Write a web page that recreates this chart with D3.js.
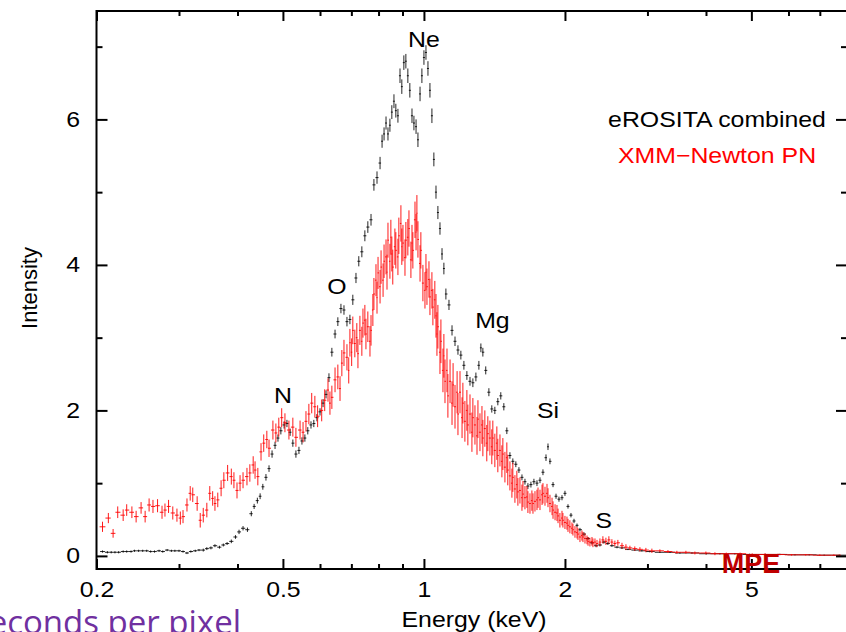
<!DOCTYPE html>
<html>
<head>
<meta charset="utf-8">
<script src="https://cdn.jsdelivr.net/npm/d3@7"></script>
<style>
  html, body { margin: 0; padding: 0; background: #fff; overflow: hidden; }
  svg { display: block; }
</style>
</head>
<body>
<div id="chart"></div>
<script>
// eROSITA combined: [energy keV, intensity, error]
const erosita = [
  [0.206,0.06,0.015],[0.211,0.05,0.015],[0.215,0.05,0.015],[0.219,0.05,0.015],[0.223,0.05,0.015],
  [0.228,0.06,0.015],[0.232,0.06,0.015],[0.237,0.06,0.015],[0.241,0.07,0.015],[0.246,0.07,0.015],
  [0.251,0.07,0.015],[0.256,0.07,0.015],[0.261,0.06,0.015],[0.266,0.06,0.015],[0.272,0.07,0.015],
  [0.277,0.06,0.015],[0.283,0.08,0.015],[0.289,0.07,0.015],[0.294,0.07,0.015],[0.300,0.07,0.015],
  [0.306,0.06,0.015],[0.312,0.04,0.015],[0.318,0.06,0.015],[0.325,0.07,0.015],[0.331,0.08,0.015],
  [0.338,0.08,0.02],[0.344,0.10,0.02],[0.351,0.11,0.02],[0.358,0.14,0.02],[0.366,0.12,0.02],
  [0.373,0.15,0.02],[0.380,0.17,0.02],[0.388,0.20,0.025],[0.396,0.26,0.025],[0.403,0.33,0.03],
  [0.411,0.38,0.03],[0.420,0.36,0.03],[0.428,0.58,0.035],[0.434,0.68,0.035],[0.441,0.76,0.04],
  [0.447,0.82,0.04],[0.453,0.95,0.04],[0.460,1.08,0.045],[0.467,1.20,0.045],[0.474,1.40,0.05],
  [0.481,1.52,0.05],[0.488,1.62,0.05],[0.495,1.72,0.05],[0.503,1.80,0.05],[0.510,1.82,0.05],
  [0.518,1.70,0.05],[0.525,1.55,0.05],[0.533,1.40,0.05],[0.541,1.45,0.05],[0.549,1.58,0.05],
  [0.557,1.62,0.05],[0.565,1.72,0.05],[0.574,1.80,0.05],[0.582,1.82,0.05],[0.591,1.90,0.05],
  [0.600,1.98,0.05],[0.609,2.10,0.055],[0.618,2.22,0.055],[0.627,2.45,0.06],[0.636,2.80,0.06],
  [0.646,3.05,0.06],[0.655,3.22,0.06],[0.665,3.40,0.065],[0.675,3.38,0.065],[0.685,3.22,0.065],
  [0.695,3.25,0.065],[0.705,3.52,0.07],[0.716,3.82,0.07],[0.726,4.05,0.07],[0.737,4.18,0.075],
  [0.748,4.40,0.075],[0.759,4.52,0.08],[0.771,4.62,0.08],[0.782,5.10,0.08],[0.794,5.20,0.085],
  [0.806,5.40,0.085],[0.814,5.70,0.09],[0.822,5.80,0.09],[0.830,5.95,0.09],[0.838,5.80,0.09],
  [0.846,5.92,0.09],[0.854,6.10,0.095],[0.863,6.25,0.095],[0.871,6.12,0.095],[0.880,6.05,0.095],
  [0.889,6.60,0.1],[0.897,6.45,0.1],[0.906,6.78,0.1],[0.915,6.80,0.1],[0.924,6.60,0.1],
  [0.933,6.40,0.1],[0.943,6.05,0.1],[0.952,5.95,0.1],[0.962,5.90,0.1],[0.971,5.72,0.1],
  [0.981,6.35,0.1],[0.990,6.60,0.1],[1.000,6.85,0.1],[1.010,6.92,0.1],[1.020,6.70,0.1],
  [1.030,6.40,0.1],[1.040,6.05,0.1],[1.050,5.45,0.095],[1.061,5.00,0.09],[1.071,4.72,0.09],
  [1.082,4.50,0.085],[1.093,4.15,0.08],[1.103,3.95,0.08],[1.114,3.60,0.075],[1.131,3.45,0.07],
  [1.148,3.10,0.07],[1.165,2.95,0.065],[1.182,2.83,0.065],[1.199,2.76,0.06],[1.217,2.62,0.06],
  [1.235,2.48,0.06],[1.254,2.40,0.06],[1.272,2.38,0.06],[1.291,2.46,0.06],[1.310,2.62,0.06],
  [1.323,2.86,0.06],[1.336,2.80,0.06],[1.355,2.55,0.055],[1.376,2.25,0.055],[1.396,2.02,0.05],
  [1.417,2.00,0.05],[1.438,2.12,0.05],[1.459,2.20,0.05],[1.481,2.05,0.05],[1.503,1.72,0.045],
  [1.526,1.38,0.045],[1.548,1.30,0.04],[1.571,1.26,0.04],[1.595,1.18,0.04],[1.619,1.08,0.04],
  [1.643,1.02,0.04],[1.667,0.96,0.04],[1.692,0.98,0.04],[1.717,1.02,0.04],[1.743,1.00,0.04],
  [1.769,1.04,0.04],[1.795,1.15,0.04],[1.822,1.35,0.045],[1.840,1.50,0.045],[1.858,1.30,0.04],
  [1.886,0.98,0.035],[1.914,0.82,0.035],[1.942,0.78,0.035],[1.971,0.80,0.035],[2.000,0.86,0.035],
  [2.030,0.68,0.03],[2.060,0.56,0.03],[2.091,0.48,0.03],[2.122,0.42,0.025],[2.153,0.36,0.025],
  [2.196,0.30,0.025],[2.240,0.24,0.02],[2.284,0.18,0.02],[2.330,0.14,0.02],[2.375,0.15,0.02],
  [2.422,0.19,0.02],[2.470,0.17,0.02],[2.519,0.14,0.015],[2.583,0.12,0.015],[2.647,0.11,0.015],
  [2.726,0.09,0.01],[2.819,0.08,0.01],[2.919,0.07,0.01],[3.033,0.06,0.01],[3.189,0.05,0.01],
  [3.352,0.05,0.01],[3.519,0.04,0.01],[3.734,0.04,0.01],[4.006,0.03,0.01],[4.283,0.03,0.01],
  [4.610,0.03,0.01],[4.957,0.02,0.01],[5.346,0.02,0.01],[5.752,0.02,0.01],[6.195,0.015,0.008],
  [6.644,0.015,0.008],[7.150,0.01,0.008],[7.700,0.01,0.008]
];

// XMM-Newton PN: [energy keV, intensity, error]
const xmm = [
  [0.206,0.40,0.07],[0.212,0.52,0.07],[0.217,0.31,0.06],[0.222,0.60,0.08],[0.228,0.56,0.08],
  [0.232,0.63,0.08],[0.238,0.60,0.08],[0.243,0.54,0.08],[0.249,0.66,0.08],[0.254,0.54,0.08],
  [0.259,0.70,0.09],[0.264,0.68,0.09],[0.270,0.69,0.09],[0.276,0.60,0.09],[0.280,0.63,0.09],
  [0.285,0.68,0.09],[0.291,0.59,0.09],[0.297,0.56,0.09],[0.302,0.52,0.09],[0.306,0.54,0.09],
  [0.312,0.70,0.09],[0.317,0.86,0.10],[0.321,0.84,0.10],[0.328,0.72,0.10],[0.333,0.49,0.10],
  [0.338,0.56,0.10],[0.344,0.63,0.10],[0.349,0.86,0.10],[0.354,0.79,0.10],[0.358,0.72,0.10],
  [0.363,0.77,0.10],[0.369,0.93,0.11],[0.374,1.04,0.11],[0.381,1.14,0.11],[0.388,1.09,0.11],
  [0.393,1.04,0.11],[0.399,0.90,0.11],[0.405,1.00,0.11],[0.411,1.04,0.11],[0.419,1.09,0.12],
  [0.425,1.14,0.12],[0.432,1.25,0.12],[0.436,1.18,0.12],[0.442,1.09,0.12],[0.449,1.43,0.12],
  [0.455,1.55,0.12],[0.462,1.60,0.12],[0.467,1.48,0.12],[0.476,1.73,0.13],[0.483,1.69,0.13],
  [0.490,1.77,0.13],[0.497,1.90,0.13],[0.505,1.83,0.13],[0.515,1.73,0.13],[0.525,1.77,0.13],
  [0.533,1.63,0.13],[0.544,1.73,0.13],[0.552,1.70,0.14],[0.560,1.85,0.14],[0.568,1.95,0.14],
  [0.576,2.10,0.14],[0.585,2.05,0.15],[0.593,1.92,0.15],[0.605,2.00,0.15],[0.614,2.14,0.15],
  [0.624,2.28,0.16],[0.630,2.10,0.16],[0.636,2.18,0.16],[0.646,2.42,0.17],[0.655,2.46,0.17],
  [0.662,2.30,0.17],[0.668,2.65,0.18],[0.675,2.79,0.18],[0.685,2.73,0.18],[0.691,2.55,0.18],
  [0.695,2.93,0.19],[0.701,2.80,0.19],[0.705,3.10,0.19],[0.712,2.92,0.19],[0.719,3.00,0.2],
  [0.723,2.78,0.2],[0.730,3.10,0.2],[0.737,2.95,0.2],[0.741,3.20,0.2],[0.748,3.24,0.21],
  [0.752,3.05,0.21],[0.759,3.15,0.21],[0.767,2.95,0.21],[0.771,3.10,0.21],[0.778,3.38,0.22],
  [0.782,3.60,0.22],[0.790,3.79,0.22],[0.794,3.55,0.22],[0.798,3.89,0.22],[0.806,3.70,0.23],
  [0.810,3.97,0.23],[0.818,3.79,0.23],[0.822,4.05,0.23],[0.830,4.11,0.24],[0.834,3.90,0.24],
  [0.838,4.34,0.24],[0.846,4.05,0.24],[0.850,4.38,0.24],[0.854,4.15,0.24],[0.858,3.97,0.24],
  [0.867,4.25,0.25],[0.871,4.20,0.25],[0.880,4.11,0.25],[0.884,4.40,0.25],[0.893,4.57,0.25],
  [0.897,4.25,0.25],[0.902,4.30,0.25],[0.911,4.10,0.25],[0.915,4.34,0.25],[0.924,4.38,0.25],
  [0.929,4.50,0.25],[0.938,4.07,0.25],[0.943,4.30,0.25],[0.947,4.20,0.25],[0.957,4.62,0.25],
  [0.962,4.45,0.25],[0.966,4.71,0.25],[0.971,4.35,0.25],[0.981,4.02,0.25],[0.985,4.20,0.25],
  [0.995,3.75,0.25],[1.005,3.65,0.25],[1.010,3.90,0.25],[1.015,3.70,0.25],[1.025,3.80,0.25],
  [1.030,3.56,0.25],[1.040,3.65,0.25],[1.045,3.42,0.25],[1.055,3.52,0.26],[1.061,3.30,0.3],
  [1.066,3.05,0.3],[1.071,3.15,0.3],[1.082,2.80,0.3],[1.087,2.95,0.3],[1.098,2.55,0.3],
  [1.103,2.75,0.3],[1.109,2.40,0.3],[1.120,2.55,0.3],[1.125,2.20,0.3],[1.137,2.40,0.3],
  [1.148,2.10,0.3],[1.154,2.35,0.3],[1.165,2.05,0.3],[1.177,2.25,0.29],[1.182,1.95,0.29],
  [1.194,2.25,0.29],[1.206,1.90,0.28],[1.211,2.10,0.28],[1.223,1.85,0.28],[1.235,2.00,0.28],
  [1.241,1.80,0.28],[1.254,1.95,0.27],[1.266,1.70,0.27],[1.272,1.90,0.27],[1.285,1.80,0.27],
  [1.298,1.65,0.26],[1.304,1.88,0.26],[1.317,1.70,0.26],[1.330,1.80,0.26],[1.336,1.62,0.25],
  [1.349,1.75,0.25],[1.362,1.55,0.25],[1.369,1.68,0.24],[1.383,1.62,0.24],[1.396,1.50,0.24],
  [1.403,1.62,0.24],[1.417,1.45,0.23],[1.431,1.55,0.23],[1.438,1.38,0.23],[1.453,1.45,0.22],
  [1.467,1.30,0.22],[1.474,1.40,0.22],[1.489,1.22,0.21],[1.503,1.35,0.21],[1.510,1.18,0.21],
  [1.526,1.10,0.2],[1.541,1.00,0.2],[1.548,1.08,0.2],[1.564,0.92,0.19],[1.579,0.98,0.19],
  [1.587,0.88,0.19],[1.603,0.90,0.18],[1.619,0.80,0.18],[1.627,0.85,0.18],[1.643,0.80,0.16],
  [1.659,0.81,0.15],[1.667,0.74,0.15],[1.684,0.72,0.14],[1.700,0.76,0.14],[1.709,0.72,0.14],
  [1.726,0.75,0.14],[1.743,0.77,0.14],[1.752,0.80,0.14],[1.769,0.77,0.14],[1.787,0.84,0.14],
  [1.795,0.86,0.14],[1.813,0.82,0.13],[1.831,0.86,0.13],[1.840,0.80,0.13],[1.858,0.72,0.12],
  [1.877,0.68,0.12],[1.886,0.63,0.12],[1.905,0.60,0.11],[1.923,0.59,0.11],[1.933,0.55,0.1],
  [1.951,0.49,0.1],[1.971,0.52,0.1],[1.980,0.49,0.1],[2.000,0.46,0.09],[2.020,0.45,0.09],
  [2.030,0.42,0.09],[2.049,0.40,0.09],[2.070,0.38,0.08],[2.080,0.36,0.08],[2.101,0.33,0.08],
  [2.122,0.32,0.08],[2.132,0.30,0.08],[2.153,0.26,0.07],[2.174,0.28,0.07],[2.185,0.26,0.07],
  [2.207,0.24,0.07],[2.229,0.22,0.06],[2.240,0.20,0.06],[2.261,0.19,0.06],[2.284,0.20,0.06],
  [2.295,0.18,0.06],[2.318,0.19,0.05],[2.341,0.17,0.05],[2.375,0.19,0.05],[2.410,0.22,0.05],
  [2.446,0.20,0.05],[2.482,0.22,0.05],[2.519,0.19,0.04],[2.556,0.17,0.04],[2.594,0.18,0.04],
  [2.647,0.14,0.04],[2.699,0.12,0.04],[2.752,0.11,0.03],[2.819,0.10,0.03],[2.891,0.09,0.03],
  [2.977,0.08,0.03],[3.066,0.07,0.03],[3.189,0.07,0.02],[3.318,0.06,0.02],[3.467,0.05,0.02],
  [3.624,0.05,0.02],[3.788,0.04,0.02],[3.998,0.04,0.02],[4.180,0.03,0.02],[4.420,0.03,0.015],
  [4.730,0.03,0.015],[5.020,0.02,0.015],[5.350,0.02,0.015],[5.700,0.02,0.01],[6.090,0.015,0.01],
  [6.530,0.015,0.01],[7.000,0.01,0.01],[7.500,0.01,0.01]
];

const xMajor = [0.2, 0.5, 1, 2, 5];
const xMinor = [0.3, 0.4, 0.6, 0.7, 0.8, 0.9, 3, 4, 6, 7, 8];
const yMajor = [0, 2, 4, 6];
const yMinor = [1, 3, 5, 7];

// element line labels [name, energy, intensity]
const lineLabels = [
  ["N", 0.5, 2.1], ["O", 0.652, 3.6], ["Ne", 1.0, 6.99],
  ["Mg", 1.40, 3.13], ["Si", 1.84, 1.9], ["S", 2.42, 0.38]
];

const legendItems = [
  ["eROSITA combined", "#000"],
  ["XMM\u2212Newton PN", "#ff0000"]
];

const W = 846, H = 632;
const SX = 1.13; // the source picture is stretched horizontally
const font = "'Liberation Sans', Arial, Helvetica, sans-serif";

const svg = d3.select("#chart").append("svg")
    .attr("width", W)
    .attr("height", H);

const x = d3.scaleLog().domain([0.2, 8]).range([96.5, 847]);
const y = d3.scaleLinear().domain([-0.18, 7.49]).range([569, 11]);

// draw a data set as crosses (bin width + error bar)
function drawSeries(data, color, width, opacity) {
  const g = svg.append("g")
      .attr("stroke", color)
      .attr("stroke-width", width)
      .attr("stroke-opacity", opacity);
  data.forEach(function(d, i) {
    var prev = i > 0 ? data[i - 1][0] : d[0] * d[0] / data[i + 1][0];
    var next = i < data.length - 1 ? data[i + 1][0] : d[0] * d[0] / data[i - 1][0];
    var lo = Math.sqrt(prev * d[0]), hi = Math.sqrt(next * d[0]);
    g.append("line")
        .attr("x1", x(lo)).attr("x2", x(hi))
        .attr("y1", y(d[1])).attr("y2", y(d[1]));
    g.append("line")
        .attr("x1", x(d[0])).attr("x2", x(d[0]))
        .attr("y1", y(d[1] - d[2])).attr("y2", y(d[1] + d[2]));
  });
}

drawSeries(erosita, "#000", 1, 0.85);
drawSeries(xmm, "#ff0000", 1, 0.9);

// axes, ticks pointing inward on all four sides
function styleAxis(g) {
  g.select(".domain").remove();
  g.selectAll(".tick line").attr("stroke", "#000").attr("stroke-width", 2);
  g.selectAll("text")
      .attr("fill", "#000")
      .style("font-family", font)
      .style("font-size", "22px");
}

svg.append("g").attr("transform", "translate(0,569)")
    .call(d3.axisBottom(x).tickValues(xMajor).tickSize(-10).tickPadding(12)
      .tickFormat(d3.format("")))
    .call(styleAxis)
    .selectAll("text").attr("transform", "scale(" + SX + ",1)");
svg.append("g").attr("transform", "translate(0,569)")
    .call(d3.axisBottom(x).tickValues(xMinor).tickSize(-5).tickFormat(""))
    .call(styleAxis);
svg.append("g").attr("transform", "translate(0,11)")
    .call(d3.axisTop(x).tickValues(xMajor).tickSize(-10).tickFormat(""))
    .call(styleAxis);
svg.append("g").attr("transform", "translate(0,11)")
    .call(d3.axisTop(x).tickValues(xMinor).tickSize(-5).tickFormat(""))
    .call(styleAxis);

svg.append("g").attr("transform", "translate(96.5,0)")
    .call(d3.axisLeft(y).tickValues(yMajor).tickSize(-11).tickPadding(14.5))
    .call(styleAxis)
    .selectAll("text").attr("transform", "scale(" + SX + ",1)");
svg.append("g").attr("transform", "translate(96.5,0)")
    .call(d3.axisLeft(y).tickValues(yMinor).tickSize(-6).tickFormat(""))
    .call(styleAxis);
svg.append("g").attr("transform", "translate(847,0)")
    .call(d3.axisRight(y).tickValues(yMajor).tickSize(-11).tickFormat(""))
    .call(styleAxis);
svg.append("g").attr("transform", "translate(847,0)")
    .call(d3.axisRight(y).tickValues(yMinor).tickSize(-6).tickFormat(""))
    .call(styleAxis);

// frame
svg.append("rect")
    .attr("x", 96.5).attr("y", 11)
    .attr("width", 847 - 96.5).attr("height", 569 - 11)
    .attr("fill", "none").attr("stroke", "#000").attr("stroke-width", 2);

function label(px, py, txt, color, anchor, size) {
  return svg.append("text")
      .attr("transform", "translate(" + px + "," + py + ") scale(" + SX + ",1)")
      .attr("text-anchor", anchor || "middle")
      .attr("fill", color || "#000")
      .style("font-family", font)
      .style("font-size", (size || 22) + "px")
      .text(txt);
}

label(474, 627, "Energy (keV)");
svg.append("text")
    .attr("transform", "translate(37,288) rotate(-90)")
    .attr("text-anchor", "middle")
    .style("font-family", font)
    .style("font-size", "22px")
    .text("Intensity");

lineLabels.forEach(function(d) {
  label(x(d[1]), y(d[2]), d[0]);
});

legendItems.forEach(function(d, i) {
  label(717, 127 + i * 36, d[0], d[1]);
});

// overlay texts from the slide
svg.append("text")
    .attr("x", 751).attr("y", 573)
    .attr("text-anchor", "middle")
    .attr("fill", "#c00000")
    .style("font-family", font)
    .style("font-weight", "bold")
    .style("font-size", "27px")
    .text("MPE");

// slide caption, cut by the left and bottom edges as in the source
svg.append("text")
    .attr("x", 241).attr("y", 634)
    .attr("text-anchor", "end")
    .attr("fill", "#7030a0")
    .style("font-family", "'Open Sans', sans-serif")
    .style("font-size", "33px")
    .text("seconds per pixel");
</script>
</body>
</html>
